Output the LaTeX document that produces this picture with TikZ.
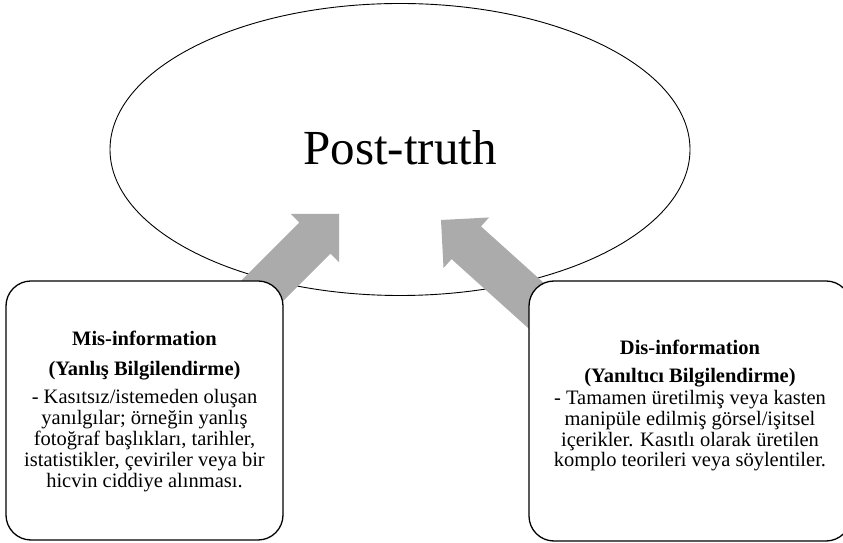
\documentclass[tikz,border=0pt]{standalone}
\usepackage{fontspec}
\setmainfont{Liberation Serif}
\usetikzlibrary{shapes.geometric}
\definecolor{arrowgray}{RGB}{170,171,170}
\begin{document}
\begin{tikzpicture}[x=1pt,y=1pt,
  infobox/.style={draw=black, line width=1.3pt, fill=white, rounded corners=25pt, inner sep=0pt, outer sep=0pt},
  bodytext/.style={inner sep=0pt, anchor=base, font=\fontsize{20.5}{21}\selectfont},
  titletext/.style={inner sep=0pt, anchor=base, font=\fontsize{20.5}{21}\selectfont\bfseries},
  blockarrow/.style={fill=arrowgray}]
\clip (0,0) rectangle (843,543);
\fill[white] (0,0) rectangle (843,543);
% ellipse
\node[draw=black, line width=0.9pt, ellipse, minimum width=580pt, minimum height=292pt, inner sep=0pt] (pt) at (400,393.5) {};
\node[inner sep=0pt, anchor=base, font=\fontsize{49}{50}\selectfont] (pttext) at (400,378) {Post-truth};
% arrows
\coordinate (ltip) at (339,329);
\coordinate (rtip) at (441,323);
\begin{scope}[shift={(ltip)}, rotate=45]
\fill[blockarrow] (0,0) -- (-34,34) -- (-34,22) -- (-190,22) -- (-190,-22) -- (-34,-22) -- (-34,-34) -- cycle;
\end{scope}
\begin{scope}[shift={(rtip)}, rotate=138]
\fill[blockarrow] (0,0) -- (-34,34) -- (-34,22) -- (-190,22) -- (-190,-22) -- (-34,-22) -- (-34,-34) -- cycle;
\end{scope}
% boxes
\node[infobox, minimum width=277pt, minimum height=259pt] (lbox) at (144.5,132.5) {};
\node[infobox, minimum width=322pt, minimum height=260pt] (rbox) at (690,132) {};
% left text
\node[titletext] (lt1) at (144.5,197) {Mis-information};
\node[titletext] (lt2) at (144.5,167) {(Yanlış Bilgilendirme)};
\node[bodytext] (lb1) at (144.5,139) {- Kasıtsız/istemeden oluşan};
\node[bodytext] (lb2) at (144.5,118) {yanılgılar; örneğin yanlış};
\node[bodytext] (lb3) at (144.5,97) {fotoğraf başlıkları, tarihler,};
\node[bodytext] (lb4) at (144.5,76) {istatistikler, çeviriler veya bir};
\node[bodytext] (lb5) at (144.5,55) {hicvin ciddiye alınması.};
% right text
\node[titletext] (rt1) at (690,188) {Dis-information};
\node[titletext] (rt2) at (690,160) {(Yanıltıcı Bilgilendirme)};
\node[bodytext] (rb1) at (690,138) {- Tamamen üretilmiş veya kasten};
\node[bodytext] (rb2) at (690,117) {manipüle edilmiş görsel/işitsel};
\node[bodytext] (rb3) at (690,96) {içerikler. Kasıtlı olarak üretilen};
\node[bodytext] (rb4) at (690,76) {komplo teorileri veya söylentiler.};
\end{tikzpicture}
\end{document}
